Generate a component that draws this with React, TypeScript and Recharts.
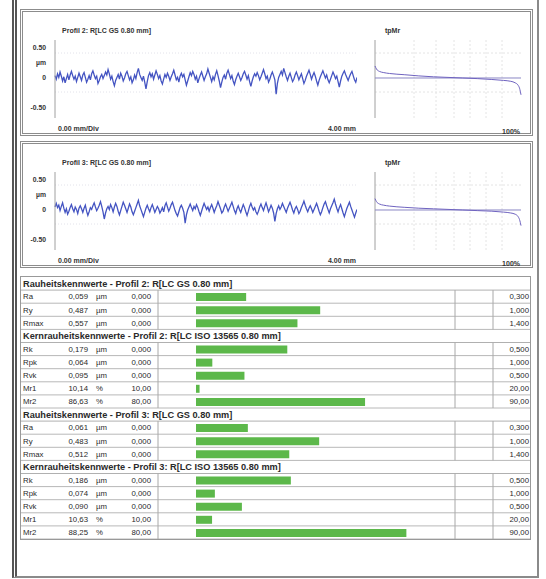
import React from 'react';
import { LineChart, Line, XAxis, YAxis, CartesianGrid, ReferenceLine, BarChart, Bar } from 'recharts';

const FONT = '"Liberation Sans", Arial, sans-serif';

// ---------- profile data (µm), 4.00 mm evaluation length ----------
const profileLengthMm = 4;
const profile2Values = [
  0.04, -0.02, 0.07, 0.01, 0.10, 0.03, -0.05, 0.02, -0.08, -0.01, 0.06, -0.03, 0.05, 0.11, 0.04, -0.02, 0.03, -0.06, 0.01, 0.08,
  0.02, -0.04, 0.05, 0.09, 0.01, -0.07, -0.02, 0.04, -0.03, 0.07, 0.12, 0.05, -0.01, 0.03, -0.09, -0.04, 0.02, 0.06, -0.01, 0.04,
  0.10, 0.05, 0.14, 0.07, -0.02, 0.03, -0.06, -0.13, -0.04, 0.01, 0.06, -0.02, 0.08, 0.03, -0.05, 0.00, 0.07, 0.11, 0.04, -0.03,
  0.02, -0.08, -0.03, 0.05, -0.01, 0.09, 0.16, 0.06, 0.01, -0.04, 0.03, -0.07, -0.18, -0.06, 0.04, 0.09, 0.02, 0.07, -0.02, 0.05,
  0.12, 0.06, -0.01, 0.04, -0.05, -0.10, -0.02, 0.06, 0.01, 0.08, 0.03, -0.04, 0.02, 0.07, 0.13, 0.05, -0.03, 0.01, -0.07, 0.03,
  0.08, 0.02, 0.06, -0.03, -0.12, -0.05, 0.02, 0.09, 0.04, 0.11, 0.06, -0.02, 0.03, -0.08, -0.01, 0.05, 0.10, 0.03, -0.04, 0.02,
  0.07, 0.15, 0.08, 0.01, -0.06, 0.02, -0.03, 0.06, 0.12, 0.04, -0.05, -0.16, -0.07, 0.01, 0.05, -0.02, 0.08, 0.13, 0.06, -0.01,
  0.04, -0.05, -0.11, -0.03, 0.03, 0.08, 0.02, -0.04, 0.01, 0.07, 0.11, 0.05, -0.02, 0.04, -0.06, -0.14, -0.05, 0.02, 0.07, 0.03,
  0.09, 0.04, -0.03, 0.02, 0.08, 0.14, 0.07, -0.01, 0.03, -0.07, -0.02, 0.05, 0.10, 0.04, -0.03, -0.27, -0.09, 0.01, 0.06, 0.11,
  0.05, 0.16, 0.09, 0.02, -0.04, 0.03, 0.08, 0.01, -0.06, -0.02, 0.05, 0.10, 0.04, -0.03, 0.02, 0.07, -0.01, -0.09, -0.04, 0.03,
  0.08, 0.13, 0.06, -0.02, 0.04, 0.09, 0.03, -0.05, -0.12, -0.04, 0.02, 0.07, 0.12, 0.06, 0.00, 0.05, -0.03, -0.08, -0.02, 0.04,
  0.10, 0.05, -0.01, 0.03, -0.06, -0.15, -0.05, 0.03, 0.08, 0.12, 0.06, 0.01, -0.04, 0.02, 0.07, 0.11, 0.04, -0.03, -0.07, 0.01,
];
const profile3Values = [
  0.05, 0.11, 0.04, 0.08, -0.01, 0.06, 0.12, 0.03, -0.04, 0.02, -0.07, -0.02, 0.04, 0.09, 0.02, -0.03, 0.05, 0.01, -0.06, 0.03,
  0.07, 0.02, -0.04, 0.03, 0.08, -0.02, -0.09, -0.03, 0.04, 0.01, 0.07, 0.12, 0.05, -0.01, 0.03, 0.08, 0.14, 0.06, -0.03, -0.15,
  -0.05, 0.02, 0.06, 0.01, 0.09, 0.04, -0.03, 0.05, 0.11, 0.06, -0.02, -0.08, -0.01, 0.06, 0.13, 0.08, 0.02, -0.04, 0.03, 0.10,
  0.05, -0.03, -0.08, -0.02, 0.04, 0.10, 0.16, 0.07, 0.01, -0.05, -0.11, -0.04, 0.03, 0.08, 0.02, -0.03, 0.04, 0.09, 0.03, -0.04,
  0.01, 0.06, 0.02, -0.05, -0.01, 0.04, -0.03, 0.07, 0.12, 0.05, -0.02, 0.03, 0.09, 0.13, 0.06, -0.01, -0.06, -0.10, -0.03, 0.04,
  0.08, 0.03, -0.04, -0.22, -0.08, 0.00, 0.05, 0.10, 0.04, -0.01, 0.06, 0.02, 0.09, 0.04, -0.03, -0.09, -0.02, 0.05, 0.11, 0.06,
  0.01, 0.05, -0.02, 0.04, 0.09, 0.03, -0.04, 0.02, 0.07, 0.14, 0.08, 0.02, -0.05, -0.02, 0.05, 0.10, 0.04, -0.02, 0.03, 0.08,
  0.13, 0.06, -0.01, -0.06, 0.02, 0.07, 0.01, -0.04, 0.03, 0.09, 0.04, -0.03, -0.09, -0.02, 0.06, 0.11, 0.05, 0.00, 0.04, -0.03,
  -0.07, -0.02, 0.05, 0.10, 0.04, -0.01, 0.06, 0.12, 0.05, -0.03, 0.02, 0.08, 0.03, -0.05, -0.19, -0.06, 0.02, 0.07, 0.01, 0.05,
  0.11, 0.06, 0.01, -0.04, 0.03, 0.08, 0.13, 0.07, 0.00, -0.05, 0.02, 0.06, 0.01, -0.06, -0.02, 0.04, 0.09, 0.15, 0.08, 0.02,
  -0.03, 0.03, 0.07, 0.02, -0.04, 0.01, 0.06, 0.11, 0.05, -0.02, -0.08, -0.03, 0.04, 0.10, 0.14, 0.07, 0.01, -0.05, 0.02, 0.07,
  0.12, 0.18, 0.10, 0.03, -0.03, 0.04, 0.09, 0.02, -0.05, -0.11, -0.04, 0.03, 0.08, 0.13, 0.06, 0.00, -0.06, -0.12, -0.05, 0.01,
];

// ---------- material ratio (Abbott) curves ----------
const abbottPct = [0, 1, 3, 6, 10, 20, 30, 40, 50, 60, 70, 80, 88, 93, 96, 98, 99, 100];
const abbott2Heights = [0.2, 0.15, 0.11, 0.09, 0.075, 0.055, 0.035, 0.02, 0.01, 0.0, -0.01, -0.025, -0.04, -0.055, -0.08, -0.12, -0.17, -0.28];
const abbott3Heights = [0.19, 0.14, 0.1, 0.08, 0.065, 0.045, 0.03, 0.02, 0.01, 0.0, -0.01, -0.02, -0.035, -0.05, -0.07, -0.11, -0.16, -0.26];

// ---------- parameter table ----------
const tableHeaders = [
  'Rauheitskennwerte - Profil 2: R[LC GS 0.80 mm]',
  'Kernrauheitskennwerte - Profil 2: R[LC ISO 13565 0.80 mm]',
  'Rauheitskennwerte - Profil 3: R[LC GS 0.80 mm]',
  'Kernrauheitskennwerte - Profil 3: R[LC ISO 13565 0.80 mm]',
];
const roughNames = ['Ra', 'Ry', 'Rmax'];
const roughUnits = ['µm', 'µm', 'µm'];
const roughLower = [0, 0, 0];
const roughUpper = [0.3, 1.0, 1.4];
const coreNames = ['Rk', 'Rpk', 'Rvk', 'Mr1', 'Mr2'];
const coreUnits = ['µm', 'µm', 'µm', '%', '%'];
const coreLower = [0, 0, 0, 10, 80];
const coreUpper = [0.5, 1.0, 0.5, 20, 90];
const roughProfil2 = [0.059, 0.487, 0.557];
const coreProfil2 = [0.179, 0.064, 0.095, 10.14, 86.63];
const roughProfil3 = [0.061, 0.483, 0.512];
const coreProfil3 = [0.186, 0.074, 0.09, 10.63, 88.25];

type Row = { key: string; header?: string; name?: string; value?: number; unit?: string; lo?: number; hi?: number; ratio: number | null };

function fmt(v: number, unit: string) {
  return (unit === '%' ? v.toFixed(2) : v.toFixed(3)).replace('.', ',');
}

function group(names: string[], units: string[], vals: number[], lo: number[], hi: number[], prefix: string): Row[] {
  return names.map((n, i) => ({
    key: prefix + n,
    name: n,
    value: vals[i],
    unit: units[i],
    lo: lo[i],
    hi: hi[i],
    ratio: (vals[i] - lo[i]) / (hi[i] - lo[i]),
  }));
}

const rows: Row[] = [
  { key: 'h0', header: tableHeaders[0], ratio: null },
  ...group(roughNames, roughUnits, roughProfil2, roughLower, roughUpper, 'a'),
  { key: 'h1', header: tableHeaders[1], ratio: null },
  ...group(coreNames, coreUnits, coreProfil2, coreLower, coreUpper, 'b'),
  { key: 'h2', header: tableHeaders[2], ratio: null },
  ...group(roughNames, roughUnits, roughProfil3, roughLower, roughUpper, 'c'),
  { key: 'h3', header: tableHeaders[3], ratio: null },
  ...group(coreNames, coreUnits, coreProfil3, coreLower, coreUpper, 'd'),
];

const profile2Data = profile2Values.map((y, i) => ({ x: (i * profileLengthMm) / (profile2Values.length - 1), y }));
const profile3Data = profile3Values.map((y, i) => ({ x: (i * profileLengthMm) / (profile3Values.length - 1), y }));
const abbott2Data = abbottPct.map((p, i) => ({ p, h: abbott2Heights[i] }));
const abbott3Data = abbottPct.map((p, i) => ({ p, h: abbott3Heights[i] }));

const Y_DOMAIN: [number, number] = [-0.6667, 0.6333];

function Txt({ x, y, children, anchor = 'start', size = 7, bold = false, color = '#333' }: any) {
  const h = size + 4;
  const style: any = {
    position: 'absolute',
    top: y - h / 2,
    height: h,
    lineHeight: h + 'px',
    fontSize: size,
    fontFamily: FONT,
    fontWeight: bold ? 'bold' : 'normal',
    color,
    whiteSpace: 'nowrap',
  };
  if (anchor === 'end') style.right = 546 - x;
  else style.left = x;
  return <div style={style}>{children}</div>;
}

function ProfileTick(props: any) {
  const { x, y, payload } = props;
  const v = payload.value;
  const label = v === 0.25 ? 'µm' : v === 0 ? '0' : v > 0 ? '0.50' : '-0.50';
  return (
    <text x={x - 1} y={y} dy={2.5} textAnchor="end" fontSize={6.8} fontWeight="bold" fontFamily={FONT} fill="#333">
      {label}
    </text>
  );
}

function Panel({ top, data, abbott, title }: any) {
  const plotTop = top + 31;
  return (
    <>
      <div style={{ position: 'absolute', left: 20, top, width: 513, height: 127, border: '3px double #8c8c8c', boxSizing: 'border-box' }} />
      <Txt x={62} y={top + 21} bold size={7}>{title}</Txt>
      <Txt x={385} y={top + 21} bold size={7}>tpMr</Txt>
      <div style={{ position: 'absolute', left: 20, top: plotTop }}>
        <LineChart width={337} height={78} data={data} margin={{ top: 0, right: 0, bottom: 0, left: 0 }}>
          <CartesianGrid stroke="#e2e2ea" strokeDasharray="1 2" vertical={false} horizontalPoints={[13, 52]} />
          <XAxis type="number" dataKey="x" domain={[0, profileLengthMm]} hide />
          <YAxis type="number" domain={Y_DOMAIN} ticks={[-0.5, 0, 0.25, 0.5]} interval={0} width={35} axisLine={{ stroke: '#a0a0a0' }} tickLine={false} tick={<ProfileTick />} />
          <Line dataKey="y" type="linear" stroke="#4454c2" strokeWidth={1.3} dot={false} isAnimationActive={false} />
        </LineChart>
      </div>
      <div style={{ position: 'absolute', left: 374, top: plotTop }}>
        <LineChart width={148} height={78} data={abbott} margin={{ top: 0, right: 1, bottom: 0, left: 1 }}>
          <CartesianGrid stroke="#e4e4e4" strokeDasharray="2 2" horizontalPoints={[13, 52]} verticalPoints={[40, 62, 80, 96, 112, 128]} />
          <XAxis type="number" dataKey="p" domain={[0, 100]} hide />
          <YAxis type="number" domain={Y_DOMAIN} hide />
          <ReferenceLine x={0} stroke="#a0a0a0" />
          <ReferenceLine y={0} stroke="#8a86c4" />
          <Line dataKey="h" type="monotone" stroke="#6f63c0" strokeWidth={1} dot={false} isAnimationActive={false} />
        </LineChart>
      </div>
      <Txt x={58} y={top + 119} bold size={7}>0.00 mm/Div</Txt>
      <Txt x={356} y={top + 119} anchor="end" bold size={7}>4.00 mm</Txt>
      <Txt x={520} y={top + 122} anchor="end" bold size={7}>100%</Txt>
    </>
  );
}

const TABLE_W = 511;
const TABLE_H = 262;
const BAND = TABLE_H / rows.length;

function RowTick(props: any) {
  const { y, payload } = props;
  const row = rows.find((r) => r.key === payload.value);
  if (!row) return null;
  const top = y - BAND / 2;
  const bottom = y + BAND / 2;
  const common = { fontFamily: FONT, fill: '#2a2a2a', dy: 2.8 };
  if (row.header) {
    return (
      <g>
        <line x1={0} x2={TABLE_W} y1={bottom} y2={bottom} stroke="#b0b0b0" strokeWidth={1} />
        <text x={3} y={y} {...common} dy={3.2} fontSize={9.2} fontWeight="bold">{row.header}</text>
      </g>
    );
  }
  return (
    <g>
      <line x1={0} x2={TABLE_W} y1={bottom} y2={bottom} stroke="#b8b8b8" strokeWidth={1} />
      {[138, 435, 473].map((lx) => (
        <line key={lx} x1={lx} x2={lx} y1={top} y2={bottom} stroke="#a8a8a8" strokeWidth={1} />
      ))}
      <text x={3} y={y} {...common} fontSize={7.8}>{row.name}</text>
      <text x={68} y={y} {...common} fontSize={7.8} textAnchor="end">{fmt(row.value!, row.unit!)}</text>
      <text x={76} y={y} {...common} fontSize={7.8}>{row.unit}</text>
      <text x={131} y={y} {...common} fontSize={7.8} textAnchor="end">{fmt(row.lo!, row.unit!)}</text>
      <text x={509} y={y} {...common} fontSize={7.8} textAnchor="end">{fmt(row.hi!, row.unit!)}</text>
    </g>
  );
}

export default function App() {
  return (
    <div style={{ position: 'absolute', left: 0, top: 0, width: 546, height: 579, background: '#fff', overflow: 'hidden' }}>
      <div style={{ position: 'absolute', left: 12, top: -2, width: 527, height: 580, borderLeft: '5px double #555', borderRight: '2px solid #8a8a8a', borderBottom: '2px solid #8a8a8a', borderTop: '1px solid #aaa', boxSizing: 'border-box' }} />
      <Panel top={9} data={profile2Data} abbott={abbott2Data} title="Profil 2: R[LC GS 0.80 mm]" />
      <Panel top={141} data={profile3Data} abbott={abbott3Data} title="Profil 3: R[LC GS 0.80 mm]" />
      <div style={{ position: 'absolute', left: 20, top: 277 }}>
        <BarChart layout="vertical" width={TABLE_W} height={TABLE_H} data={rows} margin={{ top: 0, right: 80, bottom: 0, left: 0 }} barCategoryGap={0}>
          <XAxis type="number" domain={[0, 1]} hide />
          <YAxis type="category" dataKey="key" width={176} axisLine={false} tickLine={false} interval={0} tick={<RowTick />} />
          <Bar dataKey="ratio" fill="#5cb84a" barSize={8} isAnimationActive={false} />
        </BarChart>
      </div>
      <div style={{ position: 'absolute', left: 20, top: 276, width: TABLE_W, height: 264, border: '1px solid #999', boxSizing: 'border-box' }} />
    </div>
  );
}
